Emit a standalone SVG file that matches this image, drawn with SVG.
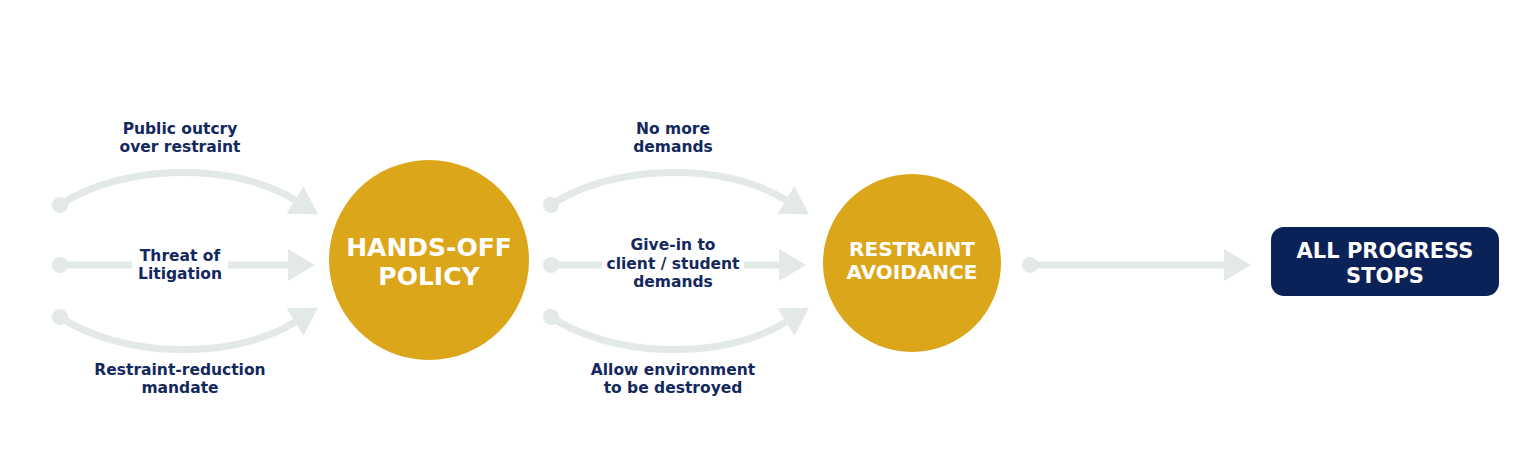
<svg xmlns="http://www.w3.org/2000/svg" width="1536" height="463" viewBox="0 0 1536 463">
<style>
.bg{fill:#ffffff}
.conn{fill:none;stroke:#e2e9e6;stroke-width:7}
.dot{fill:#e2e9e6}
.gold{fill:#dca61b}
.navy{fill:#0b2259}
.lbl{font-family:"DejaVu Sans",Verdana,sans-serif;font-weight:bold;font-size:15.5px;fill:#13295e;text-anchor:middle}
.head{font-family:"DejaVu Sans",Verdana,sans-serif;font-weight:bold;fill:#ffffff;text-anchor:middle}
.gap{fill:#ffffff}
</style>
<defs>
<marker id="ah" markerUnits="userSpaceOnUse" markerWidth="28" markerHeight="32" refX="0" refY="16" orient="auto" overflow="visible">
<path d="M0,0 L27,16 L0,32 Z" fill="#e2e9e6"/>
</marker>
</defs>
<rect class="bg" x="0" y="0" width="1536" height="463"/>
<g id="connectors">
<path class="conn" d="M60,205 C120,165 230,160 295,200" marker-end="url(#ah)"/>
<path class="conn" d="M60,265 L288,265" marker-end="url(#ah)"/>
<path class="conn" d="M60,317 C120,357 230,362 295,322" marker-end="url(#ah)"/>
<circle class="dot" cx="60" cy="205" r="8"/>
<circle class="dot" cx="60" cy="265" r="8"/>
<circle class="dot" cx="60" cy="317" r="8"/>
<path class="conn" d="M551,205 C611,165 721,160 786,200" marker-end="url(#ah)"/>
<path class="conn" d="M551,265 L779,265" marker-end="url(#ah)"/>
<path class="conn" d="M551,317 C611,357 721,362 786,322" marker-end="url(#ah)"/>
<circle class="dot" cx="551" cy="205" r="8"/>
<circle class="dot" cx="551" cy="265" r="8"/>
<circle class="dot" cx="551" cy="317" r="8"/>
<path class="conn" d="M1030,265 L1224,265" marker-end="url(#ah)"/>
<circle class="dot" cx="1030" cy="265" r="8"/>
</g>
<g id="label-outcry">
<text class="lbl" x="180" y="134">Public outcry</text>
<text class="lbl" x="180" y="152">over restraint</text>
</g>
<g id="label-litigation">
<rect class="gap" x="132" y="245" width="96" height="40"/>
<text class="lbl" x="180" y="261">Threat of</text>
<text class="lbl" x="180" y="279">Litigation</text>
</g>
<g id="label-mandate">
<text class="lbl" x="180" y="375">Restraint-reduction</text>
<text class="lbl" x="180" y="393">mandate</text>
</g>
<g id="node-hands-off">
<circle class="gold" cx="429" cy="260" r="100"/>
<text class="head" x="429" y="256" font-size="25">HANDS-OFF</text>
<text class="head" x="429" y="285" font-size="25">POLICY</text>
</g>
<g id="label-nomore">
<text class="lbl" x="673" y="134">No more</text>
<text class="lbl" x="673" y="152">demands</text>
</g>
<g id="label-givein">
<rect class="gap" x="602" y="236" width="142" height="56"/>
<text class="lbl" x="673" y="250">Give-in to</text>
<text class="lbl" x="673" y="269">client / student</text>
<text class="lbl" x="673" y="287">demands</text>
</g>
<g id="label-environment">
<text class="lbl" x="673" y="375">Allow environment</text>
<text class="lbl" x="673" y="393">to be destroyed</text>
</g>
<g id="node-avoidance">
<circle class="gold" cx="912" cy="263" r="89"/>
<text class="head" x="912" y="256" font-size="20">RESTRAINT</text>
<text class="head" x="912" y="279" font-size="20">AVOIDANCE</text>
</g>
<g id="node-stops">
<rect class="navy" x="1271" y="227" width="228" height="69" rx="13"/>
<text class="head" x="1385" y="258" font-size="21">ALL PROGRESS</text>
<text class="head" x="1385" y="283" font-size="21">STOPS</text>
</g>
</svg>
